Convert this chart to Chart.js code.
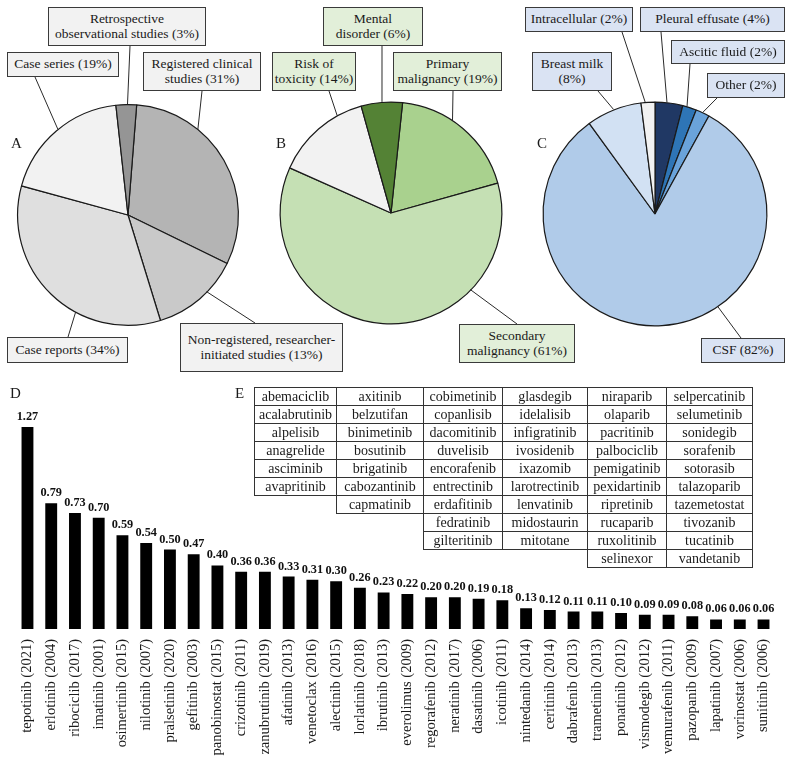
<!DOCTYPE html>
<html><head><meta charset="utf-8">
<script src="https://cdn.jsdelivr.net/npm/chart.js@4"></script>
<style>
body{margin:0;background:#fff;}
#wrap{position:relative;width:796px;height:761px;overflow:hidden;font-family:'Liberation Serif',serif;color:#1a1a1a;background:#fff;}
.box{position:absolute;border:1px solid #3a3a3a;box-sizing:border-box;display:flex;align-items:center;justify-content:center;text-align:center;font-size:13.5px;line-height:14.5px;white-space:pre-line;}
.lbl{position:absolute;font-size:15px;line-height:15px;}
canvas{position:absolute;}
svg{position:absolute;left:0;top:0;}
table{position:absolute;left:254px;top:387px;border-collapse:collapse;font-size:14px;table-layout:fixed;}
td{padding:0;height:17px;line-height:16px;text-align:center;white-space:nowrap;}
td.f{border:1px solid #333;}
</style></head>
<body>
<div id="wrap">
  <canvas id="pieA" width="240" height="240"></canvas>
  <canvas id="pieB" width="240" height="240"></canvas>
  <canvas id="pieC" width="240" height="240"></canvas>
  <canvas id="bars" width="796" height="381"></canvas>
  <svg id="lines" width="796" height="761"></svg>
  <div class="lbl" style="left:11px;top:136px">A</div>
  <div class="lbl" style="left:276px;top:136px">B</div>
  <div class="lbl" style="left:537px;top:136px">C</div>
  <div class="lbl" style="left:10px;top:386px">D</div>
  <div class="lbl" style="left:235px;top:386px">E</div>
  <table id="tbl"></table>
</div>
<script>
// ---------- Data ----------
const pieALabels = ['Registered clinical\nstudies', 'Non-registered, researcher-\ninitiated studies', 'Case reports', 'Case series', 'Retrospective\nobservational studies'];
const pieAValues = [31, 13, 34, 19, 3];
const pieAColors = ['#b4b4b4', '#c9c9c9', '#dfdfdf', '#f2f2f2', '#959595'];

const pieBLabels = ['Primary\nmalignancy', 'Secondary\nmalignancy', 'Risk of\ntoxicity', 'Mental\ndisorder'];
const pieBValues = [19, 61, 14, 6];
const pieBColors = ['#a9d18e', '#c5e0b4', '#f2f2f2', '#548235'];

const pieCLabels = ['Pleural effusate', 'Ascitic fluid', 'Other', 'CSF', 'Breast milk\n', 'Intracellular'];
const pieCValues = [4, 2, 2, 82, 8, 2];
const pieCColors = ['#203864', '#2e75b6', '#6aa3da', '#b0cbe9', '#d2e1f3', '#f2f2f2'];

const drugLabels = ['tepotinib (2021)', 'erlotinib (2004)', 'ribociclib (2017)', 'imatinib (2001)', 'osimertinib (2015)', 'nilotinib (2007)', 'pralsetinib (2020)', 'gefitinib (2003)', 'panobinostat (2015)', 'crizotinib (2011)', 'zanubrutinib (2019)', 'afatinib (2013)', 'venetoclax (2016)', 'alectinib (2015)', 'lorlatinib (2018)', 'ibrutinib (2013)', 'everolimus (2009)', 'regorafenib (2012)', 'neratinib (2017)', 'dasatinib (2006)', 'icotinib (2011)', 'nintedanib (2014)', 'ceritinib (2014)', 'dabrafenib (2013)', 'trametinib (2013)', 'ponatinib (2012)', 'vismodegib (2012)', 'vemurafenib (2011)', 'pazopanib (2009)', 'lapatinib (2007)', 'vorinostat (2006)', 'sunitinib (2006)'];
const drugValues = [1.27, 0.79, 0.73, 0.70, 0.59, 0.54, 0.50, 0.47, 0.40, 0.36, 0.36, 0.33, 0.31, 0.30, 0.26, 0.23, 0.22, 0.20, 0.20, 0.19, 0.18, 0.13, 0.12, 0.11, 0.11, 0.10, 0.09, 0.09, 0.08, 0.06, 0.06, 0.06];

const tableCol1 = ['abemaciclib', 'acalabrutinib', 'alpelisib', 'anagrelide', 'asciminib', 'avapritinib'];
const tableCol2 = ['axitinib', 'belzutifan', 'binimetinib', 'bosutinib', 'brigatinib', 'cabozantinib', 'capmatinib'];
const tableCol3 = ['cobimetinib', 'copanlisib', 'dacomitinib', 'duvelisib', 'encorafenib', 'entrectinib', 'erdafitinib', 'fedratinib', 'gilteritinib'];
const tableCol4 = ['glasdegib', 'idelalisib', 'infigratinib', 'ivosidenib', 'ixazomib', 'larotrectinib', 'lenvatinib', 'midostaurin', 'mitotane'];
const tableCol5 = ['niraparib', 'olaparib', 'pacritinib', 'palbociclib', 'pemigatinib', 'pexidartinib', 'ripretinib', 'rucaparib', 'ruxolitinib', 'selinexor'];
const tableCol6 = ['selpercatinib', 'selumetinib', 'sonidegib', 'sorafenib', 'sotorasib', 'talazoparib', 'tazemetostat', 'tivozanib', 'tucatinib', 'vandetanib'];

// ---------- Layout (positions/styles only) ----------
const pieLayout = {
  pieA: {cx: 127.5, cy: 214.5, pad: 9, rotation: 4.5, boxBg: '#f2f2f2'},
  pieB: {cx: 390.5, cy: 212.5, pad: 8.5, rotation: 6, boxBg: '#e2efd9'},
  pieC: {cx: 654.5, cy: 213.5, pad: 7.5, rotation: 0, boxBg: '#dae3f3'}
};
// box: [left, top, width, height], anchor on box, angle on pie edge (deg clockwise from top)
const calloutsA = [
  {i: 0, box: [143, 52, 118, 39], anchor: [202, 91], angle: 39.6},
  {i: 1, box: [180, 323, 163, 49], anchor: [255, 323], angle: 134.3},
  {i: 2, box: [7, 337, 121, 26], anchor: [68, 337], angle: 208},
  {i: 3, box: [7, 52, 112, 25], anchor: [35, 77], angle: 320.8},
  {i: 4, box: [48, 7, 158, 39], anchor: [130, 46], angle: 0}
];
const calloutsB = [
  {i: 0, box: [393, 52, 109, 39], anchor: [453, 91], angle: 34},
  {i: 1, box: [459, 324, 116, 39], anchor: [517, 324], angle: 134},
  {i: 2, box: [272, 52, 84, 39], anchor: [329, 91], angle: 331.2},
  {i: 3, box: [323, 7, 100, 39], anchor: [382, 46], angle: 355.6}
];
const calloutsC = [
  {i: 0, box: [640, 7, 145, 25], anchor: [661, 32], angle: 6.4},
  {i: 1, box: [671, 40, 114, 24], anchor: [690, 64], angle: 16.9},
  {i: 2, box: [707, 73, 78, 25], anchor: [717, 98], angle: 25.5},
  {i: 3, box: [701, 338, 84, 25], anchor: [741, 338], angle: 145.8},
  {i: 4, box: [532, 52, 80, 39], anchor: [598, 91], angle: 338.5},
  {i: 5, box: [525, 7, 108, 25], anchor: [622, 32], angle: 355.2}
];

Chart.defaults.font.family = "'Liberation Serif', serif";
const wrap = document.getElementById('wrap');
const svg = document.getElementById('lines');

function makePie(id, labels, values, colors, callouts) {
  const L = pieLayout[id];
  const cv = document.getElementById(id);
  cv.style.left = (L.cx - 120) + 'px';
  cv.style.top = (L.cy - 120) + 'px';
  const chart = new Chart(cv, {
    type: 'pie',
    data: {labels: labels, datasets: [{data: values, backgroundColor: colors, borderColor: '#1a1a1a', borderWidth: 1.2}]},
    options: {
      responsive: false, animation: false, rotation: L.rotation,
      layout: {padding: L.pad},
      plugins: {legend: {display: false}, tooltip: {enabled: false}}
    }
  });
  const arc = chart.getDatasetMeta(0).data[0];
  const ox = L.cx - 120 + arc.x, oy = L.cy - 120 + arc.y, r = arc.outerRadius;
  callouts.forEach(c => {
    const a = c.angle * Math.PI / 180;
    const px = ox + r * Math.sin(a), py = oy - r * Math.cos(a);
    const ln = document.createElementNS('http://www.w3.org/2000/svg', 'line');
    ln.setAttribute('x1', c.anchor[0]); ln.setAttribute('y1', c.anchor[1]);
    ln.setAttribute('x2', px); ln.setAttribute('y2', py);
    ln.setAttribute('stroke', '#2a2a2a'); ln.setAttribute('stroke-width', '1');
    svg.appendChild(ln);
    const d = document.createElement('div');
    d.className = 'box';
    d.style.left = c.box[0] + 'px'; d.style.top = c.box[1] + 'px';
    d.style.width = c.box[2] + 'px'; d.style.height = c.box[3] + 'px';
    d.style.background = L.boxBg;
    const name = labels[c.i];
    d.textContent = name.endsWith('\n') ? name + '(' + values[c.i] + '%)' : name + ' (' + values[c.i] + '%)';
    wrap.appendChild(d);
  });
  return chart;
}
makePie('pieA', pieALabels, pieAValues, pieAColors, calloutsA);
makePie('pieB', pieBLabels, pieBValues, pieBColors, calloutsB);
makePie('pieC', pieCLabels, pieCValues, pieCColors, calloutsC);

// ---------- Bar chart D ----------
const barCv = document.getElementById('bars');
barCv.style.left = '0px'; barCv.style.top = '380px';
const valueLabels = {
  id: 'valueLabels',
  afterDatasetsDraw(chart) {
    const ctx = chart.ctx;
    ctx.save();
    ctx.font = "bold 12.3px 'Liberation Serif', serif";
    ctx.fillStyle = '#111';
    ctx.textAlign = 'center';
    ctx.textBaseline = 'bottom';
    chart.getDatasetMeta(0).data.forEach((bar, i) => {
      ctx.fillText(drugValues[i].toFixed(2), bar.x, bar.y - 4);
    });
    ctx.restore();
  }
};
new Chart(barCv, {
  type: 'bar',
  data: {labels: drugLabels, datasets: [{data: drugValues, backgroundColor: '#000', borderWidth: 0, barPercentage: 0.5, categoryPercentage: 1}]},
  options: {
    responsive: false, animation: false,
    layout: {padding: {left: 15.6, right: 20.6, top: 30, bottom: 0}},
    plugins: {legend: {display: false}, tooltip: {enabled: false}},
    scales: {
      x: {
        grid: {display: false, drawTicks: false}, border: {display: false},
        ticks: {minRotation: 90, maxRotation: 90, padding: 10, autoSkip: false, color: '#1a1a1a', font: {size: 14.5}},
        afterFit: s => { s.height = 132; }
      },
      y: {display: false, min: 0, max: 1.377}
    }
  },
  plugins: [valueLabels]
});

// ---------- Table E ----------
const cols = [tableCol1, tableCol2, tableCol3, tableCol4, tableCol5, tableCol6];
const colW = [82, 87, 79, 85, 79, 86];
const tbl = document.getElementById('tbl');
const cg = document.createElement('colgroup');
colW.forEach(w => { const c = document.createElement('col'); c.style.width = w + 'px'; cg.appendChild(c); });
tbl.appendChild(cg);
const nRows = Math.max(...cols.map(c => c.length));
for (let r = 0; r < nRows; r++) {
  const tr = document.createElement('tr');
  cols.forEach(c => {
    const td = document.createElement('td');
    if (r < c.length) { td.textContent = c[r]; td.className = 'f'; }
    tr.appendChild(td);
  });
  tbl.appendChild(tr);
}
</script>
</body></html>
